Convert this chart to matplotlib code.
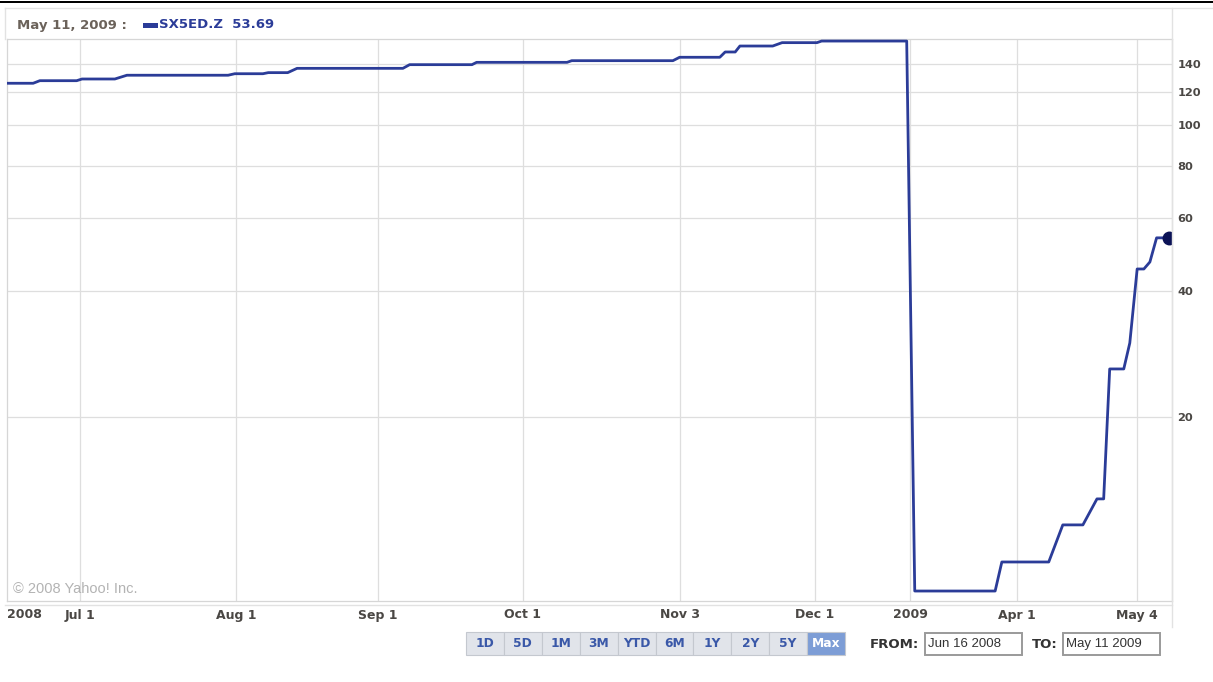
import matplotlib
matplotlib.use('Agg')
import matplotlib.pyplot as plt
from matplotlib.lines import Line2D
from matplotlib.patches import Rectangle
from matplotlib.ticker import FixedLocator, NullLocator, NullFormatter

W, H = 1213, 682

# trading session index (from Jun 16 2008) and index level at each corner
session = [0, 3.9, 4.9, 10.4, 11.2, 16.1, 17.9, 33.0, 34.0, 38.2,
           39.0, 41.9, 43.3, 59.1, 60.1, 69.4, 70.1, 83.6, 84.3, 99.4,
           100.4, 106.4, 107.2, 108.7, 109.4, 114.3, 115.7, 120.9, 121.6, 134.3,
           135.5, 147.5, 148.5, 155.5, 157.6, 160.6, 162.7, 163.7, 164.6, 166.7,
           167.6, 168.7, 169.7, 170.6, 171.6, 173.4]
level = [125.9, 125.9, 127.7, 127.7, 128.9, 128.9, 131.6, 131.6, 132.7, 132.7,
         133.5, 133.5, 136.7, 136.7, 139.5, 139.5, 141.3, 141.3, 142.6, 142.6,
         145.3, 145.3, 149.6, 149.6, 154.6, 154.6, 157.5, 157.5, 158.9, 158.9,
         7.66, 7.66, 8.99, 8.99, 11.03, 11.03, 12.73, 12.73, 26.06, 26.06,
         30.07, 45.22, 45.22, 47.0, 53.69, 53.69]

x_tick_pos = [10.9, 34.2, 55.4, 77.0, 100.4, 120.6, 134.8, 150.7, 168.7]
x_tick_lab = ['Jul 1', 'Aug 1', 'Sep 1', 'Oct 1', 'Nov 3', 'Dec 1', '2009', 'Apr 1', 'May 4']
y_ticks = [20, 40, 60, 80, 100, 120, 140]
buttons = ['1D', '5D', '1M', '3M', 'YTD', '6M', '1Y', '2Y', '5Y', 'Max']

line_col = '#2b3c98'
grid_col = '#dedede'
lab_col = '#4a4744'


def fx(px):
    return px / W


def fy(py):
    return 1 - py / H


def hline(fig, x0, x1, y, color, lw=1.0):
    fig.add_artist(Line2D([fx(x0), fx(x1)], [fy(y), fy(y)], color=color, lw=lw))


def vline(fig, x, y0, y1, color, lw=1.0):
    fig.add_artist(Line2D([fx(x), fx(x)], [fy(y0), fy(y1)], color=color, lw=lw))


fig = plt.figure(figsize=(W / 100, H / 100), dpi=100)
fig.patch.set_facecolor('white')

ax = fig.add_axes([fx(7), fy(601), (1172 - 7) / W, (601 - 39) / H])
ax.set_yscale('log')
ax.set_xlim(0, 173.9)
ax.set_ylim(7.25, 160.7)

ax.plot(session, level, color=line_col, lw=2.0, solid_joinstyle='round', zorder=3)
ax.plot(session[-1], level[-1], 'o', color='#0b1256', ms=9, zorder=4)

# grid and ticks
ax.xaxis.set_major_locator(FixedLocator(x_tick_pos))
ax.xaxis.set_minor_locator(NullLocator())
ax.yaxis.set_major_locator(FixedLocator(y_ticks))
ax.yaxis.set_minor_locator(NullLocator())
ax.yaxis.set_minor_formatter(NullFormatter())
ax.grid(True, color=grid_col, lw=0.9)
ax.set_axisbelow(True)
ax.tick_params(length=0)
ax.set_xticklabels([])
ax.yaxis.tick_right()
ax.set_yticklabels([str(v) for v in y_ticks], fontsize=8.2, fontweight='bold', color=lab_col)
ax.tick_params(axis='y', pad=4)
for s in ax.spines.values():
    s.set_color('#d6d6d6')
    s.set_linewidth(0.9)

ax.text(0.005, 0.022, '\u00a9 2008 Yahoo! Inc.', transform=ax.transAxes, fontsize=10.5,
        color='#b3b3b3', family='Liberation Sans', va='center', ha='left')

# x labels strip below the plot
for p, lab in zip(x_tick_pos, x_tick_lab):
    ax.annotate(lab, xy=(p, 0), xycoords=('data', 'axes fraction'), xytext=(0, -14),
                textcoords='offset pixels', ha='center', va='center', fontsize=9,
                fontweight='bold', color=lab_col, annotation_clip=False)
ax.annotate('2008', xy=(0, 0), xycoords=('data', 'axes fraction'), xytext=(0, -14),
            textcoords='offset pixels', ha='left', va='center', fontsize=9,
            fontweight='bold', color=lab_col, annotation_clip=False)

# panel frame
fig.add_artist(Rectangle((0, fy(3)), 1, 2 / H, transform=fig.transFigure,
                         facecolor='black', edgecolor='none'))
hline(fig, 5, 1213, 8, '#e2e2e2')
vline(fig, 5, 8, 39, '#e2e2e2')
vline(fig, 1172, 8, 627, '#e2e2e2')
hline(fig, 5, 1172, 605, '#e2e2e2')

# legend line
fig.text(fx(17), fy(25), 'May 11, 2009 :', fontsize=9.5, fontweight='bold',
         color='#6b625a', va='center', ha='left')
fig.add_artist(Rectangle((fx(143), fy(28)), 15 / W, 5 / H, transform=fig.transFigure,
                         facecolor=line_col, edgecolor='none'))
fig.text(fx(159), fy(25), 'SX5ED.Z  53.69', fontsize=9.5, fontweight='bold',
         color=line_col, va='center', ha='left')

# range buttons
bx0, bw, by0, by1 = 466, 37.9, 632, 655
for i, b in enumerate(buttons):
    sel = b == 'Max'
    x0 = bx0 + i * bw
    fig.add_artist(Rectangle((fx(x0), fy(by1)), bw / W, (by1 - by0) / H,
                             transform=fig.transFigure,
                             facecolor='#7d9dd6' if sel else '#e1e4ea',
                             edgecolor='#c4c8cf', lw=0.8))
    fig.text(fx(x0 + bw / 2), fy((by0 + by1) / 2), b, fontsize=8.8, fontweight='bold',
             color='white' if sel else '#3a58a8', ha='center', va='center')

# date range boxes
fig.text(fx(870), fy(644), 'FROM:', fontsize=9.5, fontweight='bold', color='#333333',
         ha='left', va='center')
fig.text(fx(1032), fy(644), 'TO:', fontsize=9.5, fontweight='bold', color='#333333',
         ha='left', va='center')
for (x0, x1, txt) in [(925, 1022, 'Jun 16 2008'), (1063, 1160, 'May 11 2009')]:
    r = Rectangle((fx(x0), fy(655)), (x1 - x0) / W, 22 / H, transform=fig.transFigure,
                  facecolor='white', edgecolor='#9a9a9a', lw=1.4)
    fig.add_artist(r)
    t = fig.text(fx(x0 + 3), fy(644), txt, fontsize=9.5, color='#333333',
                 family='Liberation Sans', ha='left', va='center')
    t.set_clip_path(r)

fig.savefig('out.png', dpi=100)
